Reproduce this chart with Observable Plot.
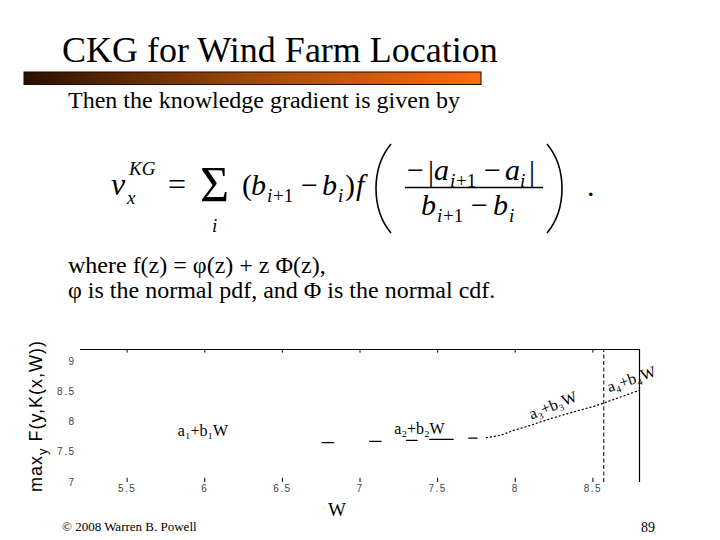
<!DOCTYPE html>
<html><head><meta charset="utf-8">
<script src="https://cdn.jsdelivr.net/npm/d3@7"></script>
<script src="https://cdn.jsdelivr.net/npm/@observablehq/plot@0.6"></script>
<style>
body{margin:0;background:#fff;}
#slide{position:relative;width:720px;height:540px;overflow:hidden;background:#fff;}
#chart{position:absolute;left:0;top:330px;z-index:0;}
#deco{position:absolute;left:0;top:0;z-index:1;pointer-events:none;}
</style></head><body>
<div id="slide"><div id="chart"></div><svg id="deco" width="720" height="540"></svg></div>
<script>
// ---- chart data ----
const xTicks = [5.5, 6, 6.5, 7, 7.5, 8, 8.5];
const yTicks = [7, 7.5, 8, 8.5, 9];
const xDomain = [5.2, 8.8];
const yDomain = [7, 9.2];
const boundaryW = [8.57];
// dashed part of the max curve (pairs = one dash)
const dashId = [1, 1, 2, 2, 3, 3, 4, 4, 5, 5];
const dashW  = [6.756, 6.831, 7.061, 7.136, 7.299, 7.368, 7.449, 7.600, 7.700, 7.754];
const dashV  = [7.658, 7.658, 7.679, 7.679, 7.696, 7.696, 7.712, 7.712, 7.734, 7.734];
// dotted part of the max curve
const dotW = [7.814, 7.904, 7.990, 8.098, 8.226, 8.376, 8.505, 8.570, 8.800];
const dotV = [7.741, 7.779, 7.862, 7.945, 8.056, 8.168, 8.260, 8.315, 8.525];
// line labels
const lineLabels = ["a\u2081+b\u2081W", "a\u2082+b\u2082W", "a\u2083+b\u2083W", "a\u2084+b\u2084W"];
const labelW = [5.989, 7.383, 8.243, 8.748];
const labelV = [7.862, 7.895, 8.276, 8.707];
const labelRot = [0, 0, -22, -19];

const SERIF = "'Liberation Serif', 'Times New Roman', Times, serif";
const SANS = "'Liberation Sans', Arial, Helvetica, sans-serif";

const dashIdx = d3.range(dashW.length);
const dotIdx = d3.range(dotW.length);
const labIdx = d3.range(lineLabels.length);

const chart = Plot.plot({
  width: 720, height: 190,
  marginTop: 19, marginBottom: 38, marginLeft: 80, marginRight: 81,
  style: {background: "transparent", overflow: "visible"},
  x: {domain: xDomain, axis: null},
  y: {domain: yDomain, axis: null},
  marks: [
    Plot.ruleY([yDomain[1]], {x1: xDomain[0], x2: xDomain[1], stroke: "#000", strokeWidth: 1.2}),
    Plot.ruleX([xDomain[1]], {y1: yDomain[0], y2: yDomain[1], stroke: "#000", strokeWidth: 1.2}),
    Plot.ruleX(boundaryW, {y1: yDomain[0], y2: yDomain[1], stroke: "#000", strokeWidth: 1, strokeDasharray: "4,2.5"}),
    Plot.ruleX(xTicks, {y1: yDomain[1], y2: yDomain[1] - 0.06, stroke: "#000", strokeWidth: 1}),
    Plot.ruleX(xTicks, {y1: yDomain[0], y2: yDomain[0] + 0.07, stroke: "#000", strokeWidth: 1}),
    Plot.axisX(xTicks, {anchor: "bottom", tickSize: 0, tickPadding: 2, fontSize: 10, fill: "#444",
      fontFamily: SANS, tickFormat: d => String(d), label: null}),
    Plot.axisY(yTicks, {anchor: "left", tickSize: 0, tickPadding: 5, fontSize: 10, fill: "#444",
      fontFamily: SANS, tickFormat: d => String(d), label: null}),
    Plot.line(dashIdx, {x: i => dashW[i], y: i => dashV[i], z: i => dashId[i], stroke: "#000", strokeWidth: 1.2}),
    Plot.line(dotIdx, {x: i => dotW[i], y: i => dotV[i], stroke: "#000", strokeWidth: 1.2, strokeDasharray: "1.2,2.8"}),
    Plot.text(labIdx, {x: i => labelW[i], y: i => labelV[i], text: i => lineLabels[i], rotate: i => labelRot[i],
      fontSize: 16, fontFamily: SERIF, fill: "#000", textAnchor: "middle"}),
    Plot.text(["W"], {frameAnchor: "bottom", dx: -23, dy: 27, fontSize: 19, fontFamily: SERIF, fill: "#000", lineAnchor: "middle"})
  ]
});
d3.select(chart).selectAll('g[aria-label="x-axis tick label"] text, g[aria-label="y-axis tick label"] text').attr("letter-spacing", "1.5");
document.getElementById("chart").appendChild(chart);

// ---- slide decoration ----
const svg = d3.select("#deco");
const defs = svg.append("defs");
const grad = defs.append("linearGradient").attr("id", "bar").attr("x1", "0").attr("x2", "1");
grad.append("stop").attr("offset", "0").attr("stop-color", "#2a1000");
grad.append("stop").attr("offset", "0.5").attr("stop-color", "#a04a08");
grad.append("stop").attr("offset", "1").attr("stop-color", "#ff6a10");

function txt(x, y, s, size, opts = {}) {
  const t = svg.append("text").attr("x", x).attr("y", y).attr("font-size", size)
    .style("font-family", opts.family || SERIF).attr("fill", "#000").text(s);
  if (opts.italic) t.style("font-style", "italic");
  if (opts.anchor) t.attr("text-anchor", opts.anchor);
  return t;
}
// one text element made of absolutely placed pieces: [string, x, y, size, italic]
function group(pieces) {
  const t = svg.append("text").style("font-family", SERIF).attr("fill", "#000");
  for (const [s, x, y, size, it] of pieces) {
    const sp = t.append("tspan").attr("x", x).attr("y", y).attr("font-size", size).text(s);
    if (it) sp.style("font-style", "italic");
  }
  return t;
}
txt(62, 62, "CKG for Wind Farm Location", 36);
svg.append("rect").attr("x", 24).attr("y", 72).attr("width", 457).attr("height", 12.5)
  .attr("fill", "url(#bar)").attr("stroke", "#1a0a00").attr("stroke-width", 1);
txt(68, 108, "Then the knowledge gradient is given by", 24);
txt(68, 273, "where f(z) = \u03c6(z) + z \u03a6(z),", 24);
txt(68, 298, "\u03c6 is the normal pdf, and \u03a6 is the normal cdf.", 24);
txt(62, 531, "\u00a9 2008 Warren B. Powell", 13);
txt(641, 532, "89", 14);

// y axis title
const yl = svg.append("text").attr("transform", "translate(42,416) rotate(-90)")
  .attr("text-anchor", "middle").style("font-family", SANS).attr("font-size", 18)
  .attr("letter-spacing", "1").attr("fill", "#000");
yl.append("tspan").text("max");
yl.append("tspan").attr("dy", 5).attr("font-size", 13).text("y");
yl.append("tspan").attr("dy", -5).text(" F(y,K(x,W))");

// formula
const M = 30, S = 19;
group([["\u03bd", 111, 195, M + 2, true], ["KG", 129, 175, S, true], ["x", 127, 204, S, true]]);
txt(168, 195, "=", M + 2);
txt(200, 201, "\u03a3", 50);
txt(212, 232, "i", S, {italic: true});
group([["(", 242, 195, M, false], ["b", 251, 195, M, true], ["i", 267, 202, S, true], ["+1", 273, 202, S, false],
       ["\u2212", 301, 195, M, false], ["b", 322, 195, M, true], ["i", 338, 202, S, true], [")", 345, 195, M, false]]);
txt(356, 195, "f", M, {italic: true});
svg.append("path").attr("d", "M391,144 C371,168 371,209 391,233").attr("fill", "none").attr("stroke", "#000").attr("stroke-width", 1.6);
group([["\u2212", 407, 180, M, false], ["|", 428, 181, M, false], ["a", 434, 180, M, true], ["i", 450, 187, S, true],
       ["+1", 456, 187, S, false], ["\u2212", 484, 180, M, false], ["a", 505, 180, M, true], ["i", 520, 187, S, true],
       ["|", 529, 181, M, false]]);
svg.append("line").attr("x1", 405).attr("x2", 543).attr("y1", 187.5).attr("y2", 187.5)
  .attr("stroke", "#000").attr("stroke-width", 1.3);
group([["b", 421, 215, M, true], ["i", 437, 222, S, true], ["+1", 443, 222, S, false],
       ["\u2212", 471, 215, M, false], ["b", 493, 215, M, true], ["i", 509, 222, S, true]]);
svg.append("path").attr("d", "M547,144 C567,168 567,209 547,233").attr("fill", "none").attr("stroke", "#000").attr("stroke-width", 1.6);
txt(587, 196, ".", M);
</script>
</body></html>
